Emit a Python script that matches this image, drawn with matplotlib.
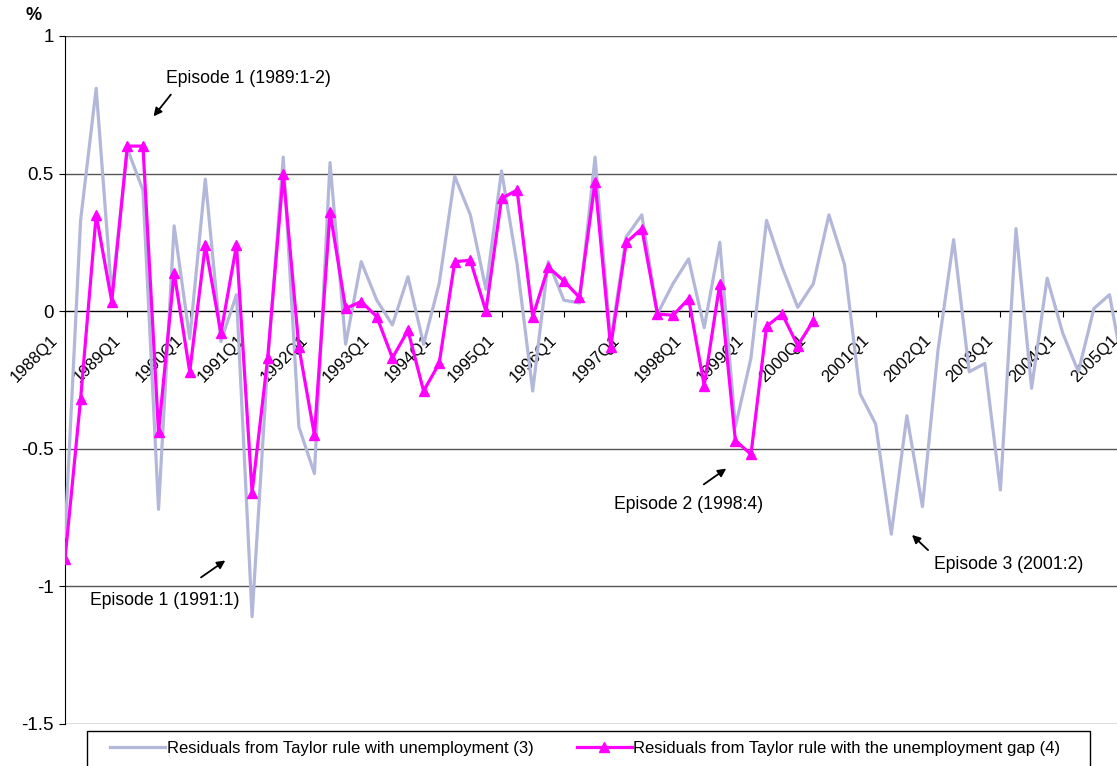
import matplotlib
matplotlib.use("Agg")
import matplotlib.pyplot as plt
import matplotlib.transforms as mtransforms
from matplotlib.patches import Rectangle

plt.rcParams['font.family'] = ['Liberation Sans', 'DejaVu Sans']

# Residuals, quarterly from 1988Q1
resid_unemp = [-0.82, 0.33, 0.81, 0.06, 0.59, 0.44, -0.72, 0.31, -0.10, 0.48,
               -0.11, 0.06, -1.11, -0.19, 0.56, -0.42, -0.59, 0.54, -0.12, 0.18,
               0.04, -0.05, 0.125, -0.12, 0.10, 0.49, 0.35, 0.08, 0.51, 0.17,
               -0.29, 0.18, 0.04, 0.03, 0.56, -0.11, 0.27, 0.35, -0.01, 0.10,
               0.19, -0.06, 0.25, -0.42, -0.17, 0.33, 0.16, 0.014, 0.10, 0.35,
               0.17, -0.30, -0.41, -0.81, -0.38, -0.71, -0.14, 0.26, -0.22, -0.19,
               -0.65, 0.30, -0.28, 0.12, -0.08, -0.22, 0.01, 0.06, -0.25]
resid_gap = [-0.90, -0.32, 0.35, 0.035, 0.60, 0.60, -0.44, 0.14, -0.22, 0.24,
             -0.08, 0.24, -0.66, -0.17, 0.50, -0.13, -0.45, 0.36, 0.01, 0.035,
             -0.02, -0.17, -0.07, -0.29, -0.19, 0.18, 0.185, 0.0, 0.41, 0.44,
             -0.02, 0.16, 0.11, 0.05, 0.47, -0.13, 0.25, 0.30, -0.01, -0.015,
             0.045, -0.27, 0.10, -0.47, -0.52, -0.055, -0.01, -0.125, -0.035]
year_labels = ["1988Q1", "1989Q1", "1990Q1", "1991Q1", "1992Q1", "1993Q1",
               "1994Q1", "1995Q1", "1996Q1", "1997Q1", "1998Q1", "1999Q1",
               "2000Q1", "2001Q1", "2002Q1", "2003Q1", "2004Q1", "2005Q1"]

W, H = 1117, 766
fig = plt.figure(figsize=(W / 100, H / 100), dpi=100)
ax = fig.add_axes([65 / W, 42 / H, 69 * 15.59 / W, 688 / H])

ax.plot(range(len(resid_unemp)), resid_unemp, color="#b3b7d9", lw=2.3,
        label="Residuals from Taylor rule with unemployment (3)", zorder=3)
ax.plot(range(len(resid_gap)), resid_gap, color="#ff00ff", lw=2.3,
        marker="^", markersize=6.5, label="Residuals from Taylor rule with the unemployment gap (4)",
        zorder=4)

ax.set_xlim(0, 69)
ax.set_ylim(-1.5, 1)
ax.set_yticks([1, 0.5, 0, -0.5, -1, -1.5])
ax.set_yticklabels(["1", "0.5", "0", "-0.5", "-1", "-1.5"], fontsize=13.5)
ax.yaxis.grid(True, color="#555555", lw=1)
ax.set_axisbelow(True)

ax.spines['bottom'].set_position(('data', 0))
ax.spines['bottom'].set_color('black')
ax.spines['top'].set_visible(False)
ax.spines['right'].set_visible(False)
ax.spines['left'].set_color('black')

ax.set_xticks(range(0, 69, 4))
ax.set_xticklabels(year_labels, rotation=45, ha='right', fontsize=12)
ax.tick_params(axis='x', direction='out', length=4, pad=11)
ax.tick_params(axis='y', direction='out', length=4, pad=4)
shift = mtransforms.ScaledTranslation(-4 / 100, 0, fig.dpi_scale_trans)
for lab in ax.get_xticklabels():
    lab.set_transform(lab.get_transform() + shift)

fig.text(34 / W, 1 - 16 / H, "%", fontsize=13, fontweight='bold', ha='center', va='center')

# episode notes
arrow = dict(arrowstyle='-|>', color='black', lw=1.3, mutation_scale=12)
ax.text(6.46, 0.846, "Episode 1 (1989:1-2)", fontsize=12.7, va='center')
ax.annotate('', xy=(5.57, 0.70), xytext=(6.9, 0.795), arrowprops=arrow)
ax.text(1.6, -1.053, "Episode 1 (1991:1)", fontsize=12.7, va='center')
ax.annotate('', xy=(10.43, -0.90), xytext=(8.58, -0.973), arrowprops=arrow)
ax.text(35.2, -0.704, "Episode 2 (1998:4)", fontsize=12.7, va='center')
ax.annotate('', xy=(42.56, -0.566), xytext=(40.83, -0.635), arrowprops=arrow)
ax.text(55.74, -0.922, "Episode 3 (2001:2)", fontsize=12.7, va='center')
ax.annotate('', xy=(54.2, -0.806), xytext=(55.49, -0.875), arrowprops=arrow)

# legend box, runs past the bottom edge like the original
fig.patches.append(Rectangle((87 / W, -0.02), (1090 - 87) / W, 0.02 + 35 / H,
                             transform=fig.transFigure, fill=False,
                             edgecolor='black', lw=1))
leg = fig.legend(loc='upper left', bbox_to_anchor=(110 / W, 1 - 741 / H),
                 ncol=2, fontsize=12, frameon=False,
                 handlelength=3.3, handletextpad=0.1, columnspacing=2.6,
                 borderaxespad=0, borderpad=0)

fig.savefig("out.png", dpi=100)
